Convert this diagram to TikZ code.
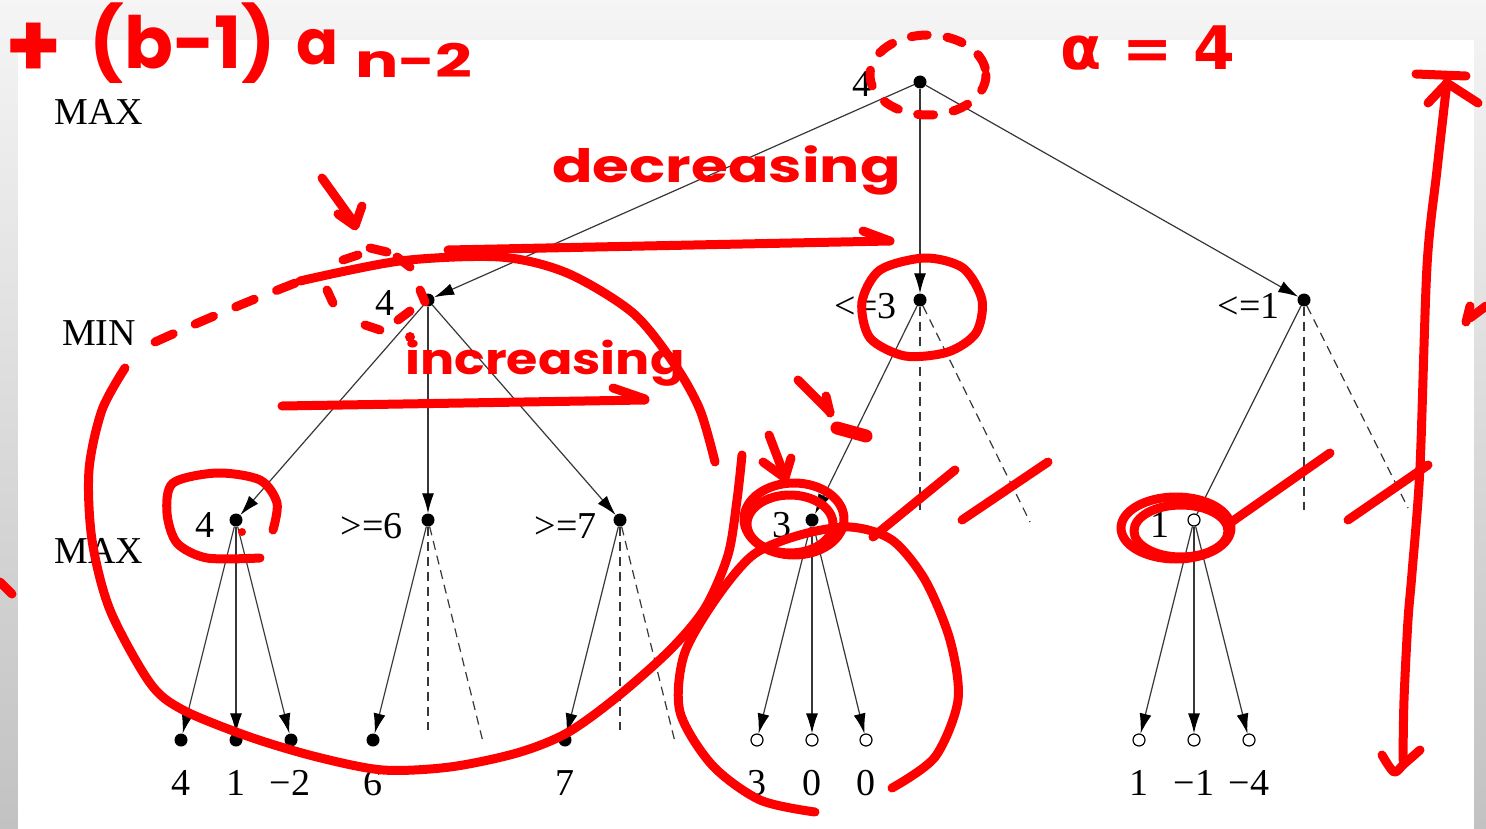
\documentclass[tikz,border=0pt]{standalone}
\usepackage{fontspec}
\setmainfont{Liberation Serif}
\newfontfamily\handfont{Poppins}
\newfontfamily\greekhand{DejaVu Sans}
\usetikzlibrary{arrows.meta}
\definecolor{ink}{RGB}{255,0,0}
\definecolor{edgegray}{RGB}{55,55,55}
\begin{document}
\begin{tikzpicture}[x=1pt,y=-1pt,
  treeedge/.style={draw=edgegray, line width=1.2pt, -{Latex[length=20pt,width=12pt,color=black]}},
  plainedge/.style={draw=edgegray, line width=1.2pt},
  prunededge/.style={draw=edgegray, line width=1.2pt, dash pattern=on 9pt off 6pt},
  dotnode/.style={circle, fill=black, inner sep=0pt, minimum size=13pt},
  opennode/.style={circle, draw=black, fill=white, line width=1.2pt, inner sep=0pt, minimum size=12pt},
  treelabel/.style={inner sep=0pt, font=\fontsize{38}{40}\selectfont},
  inkline/.style={draw=ink, line width=9pt, line cap=round, line join=round},
  inkdash/.style={inkline, dash pattern=on 20pt off 24pt},
  inktext/.style={text=ink, inner sep=0pt}]
\useasboundingbox (0,0) rectangle (1486,829);
% background frame
\fill[top color=black!4, bottom color=black!24] (0,0) rectangle (1486,829);
\fill[white] (18,40) rectangle (1474,829);

% level labels
\node[treelabel, anchor=base] (lmax1) at (99,125) {MAX};
\node[treelabel, anchor=base] (lmin) at (99,345) {MIN};
\node[treelabel, anchor=base] (lmax2) at (99,563) {MAX};

% tree nodes
\node[dotnode] (root) at (920,82) {};
\node[dotnode] (A) at (428,300) {};
\node[dotnode] (B) at (920,300) {};
\node[dotnode] (C) at (1304,300) {};
\node[dotnode] (A1) at (236,520) {};
\node[dotnode] (A2) at (428,520) {};
\node[dotnode] (A3) at (620,520) {};
\node[dotnode] (B1) at (812,520) {};
\node[opennode] (C1) at (1194,520) {};
\node[dotnode] (a11) at (181,740) {};
\node[dotnode] (a12) at (236,740) {};
\node[dotnode] (a13) at (291,740) {};
\node[dotnode] (a21) at (373,740) {};
\node[dotnode] (a31) at (565,740) {};
\node[opennode] (b11) at (757,740) {};
\node[opennode] (b12) at (812,740) {};
\node[opennode] (b13) at (866,740) {};
\node[opennode] (c11) at (1139,740) {};
\node[opennode] (c12) at (1194,740) {};
\node[opennode] (c13) at (1249,740) {};
\coordinate (pA2a) at (428,730);
\coordinate (pA2b) at (483,742);
\coordinate (pA3a) at (620,730);
\coordinate (pA3b) at (675,742);
\coordinate (pBa) at (920,510);
\coordinate (pBb) at (1030,522);
\coordinate (pCa) at (1304,510);
\coordinate (pCb) at (1408,508);

% node value labels
\node[treelabel, anchor=base east] (vroot) at ([xshift=-48pt,yshift=-15pt]root.center) {4};
\node[treelabel, anchor=base east] (vA) at ([xshift=-33pt,yshift=-15pt]A.center) {4};
\node[treelabel, anchor=base east] (vB) at ([xshift=-23pt,yshift=-18pt]B.center) {<=3};
\node[treelabel, anchor=base east] (vC) at ([xshift=-24pt,yshift=-18pt]C.center) {<=1};
\node[treelabel, anchor=base east] (vA1) at ([xshift=-21pt,yshift=-17pt]A1.center) {4};
\node[treelabel, anchor=base east] (vA2) at ([xshift=-25pt,yshift=-18pt]A2.center) {>=6};
\node[treelabel, anchor=base east] (vA3) at ([xshift=-23pt,yshift=-18pt]A3.center) {>=7};
\node[treelabel, anchor=base east] (vB1) at ([xshift=-20pt,yshift=-17pt]B1.center) {3};
\node[treelabel, anchor=base east] (vC1) at ([xshift=-24pt,yshift=-17pt]C1.center) {1};

% leaf values
\node[treelabel, anchor=base] (t1) at (181,795) {4};
\node[treelabel, anchor=base] (t2) at (236,795) {1};
\node[treelabel, anchor=base] (t3) at (290,795) {−2};
\node[treelabel, anchor=base] (t4) at (373,795) {6};
\node[treelabel, anchor=base] (t5) at (565,795) {7};
\node[treelabel, anchor=base] (t6) at (757,795) {3};
\node[treelabel, anchor=base] (t7) at (812,795) {0};
\node[treelabel, anchor=base] (t8) at (866,795) {0};
\node[treelabel, anchor=base] (t9) at (1139,795) {1};
\node[treelabel, anchor=base] (t10) at (1194,795) {−1};
\node[treelabel, anchor=base] (t11) at (1249,795) {−4};

% edges
\draw[treeedge] (root) -- (A);
\draw[treeedge] (root) -- (B);
\draw[treeedge] (root) -- (C);
\draw[treeedge] (A) -- (A1);
\draw[treeedge] (A) -- (A2);
\draw[treeedge] (A) -- (A3);
\draw[treeedge] (A1) -- (a11);
\draw[treeedge] (A1) -- (a12);
\draw[treeedge] (A1) -- (a13);
\draw[treeedge] (A2) -- (a21);
\draw[treeedge] (A3) -- (a31);
\draw[treeedge] (B) -- (B1);
\draw[treeedge] (B1) -- (b11);
\draw[treeedge] (B1) -- (b12);
\draw[treeedge] (B1) -- (b13);
\draw[plainedge] (C) -- (C1);
\draw[treeedge] (C1) -- (c11);
\draw[treeedge] (C1) -- (c12);
\draw[treeedge] (C1) -- (c13);
\draw[prunededge] (A2) -- (pA2a);
\draw[prunededge] (A2) -- (pA2b);
\draw[prunededge] (A3) -- (pA3a);
\draw[prunededge] (A3) -- (pA3b);
\draw[prunededge] (B) -- (pBa);
\draw[prunededge] (B) -- (pBb);
\draw[prunededge] (C) -- (pCa);
\draw[prunededge] (C) -- (pCb);

% ---------- red handwriting ----------
\node[inktext, font=\handfont\bfseries\fontsize{90}{90}\selectfont] (hplus) at (34,50) {+};
\node[inktext, font=\handfont\bfseries\fontsize{72}{72}\selectfont] (hbr) at (183,43) {(b-1)};
\node[inktext, font=\handfont\bfseries\fontsize{62}{62}\selectfont] (ha) at (318,47) {a};
\node[inktext, font=\handfont\bfseries\fontsize{46}{46}\selectfont, xscale=1.4] (hsub) at (414,60) {n-2};
\node[inktext, font=\greekhand\bfseries\fontsize{60}{60}\selectfont, anchor=west] (halpha) at (1060,48) {α = 4};
\node[inktext, font=\handfont\bfseries\fontsize{46}{46}\selectfont, xscale=1.3, anchor=base west] (hdec) at (552,183) {decreasing};
\node[inktext, font=\handfont\bfseries\fontsize{43}{43}\selectfont, xscale=1.18, anchor=base west] (hinc) at (405,374) {increasing};

% dashed ellipse round the root
\draw[inkline, dash pattern=on 16pt off 20pt] (928,75) ellipse [x radius=58, y radius=40];

% arrows
\draw[inkline] (322,178) -- (355,224);
\draw[inkline] (338,214) -- (355,226) -- (362,206);
\draw[inkline] (448,250) -- (890,241);
\draw[inkline] (863,231) -- (890,241);
\draw[inkline] (282,406) -- (645,400);
\draw[inkline] (613,388) -- (645,399);
\draw[inkline] (798,380) -- (830,412);
\draw[inkline] (826,396) -- (830,413);
\draw[inkline, line width=13pt] (837,428) -- (866,436);
\draw[inkline] (769,435) -- (785,477);
\draw[inkline] (763,462) -- (785,478) -- (791,458);

% loop round the left MIN subtree
\draw[inkdash] plot[smooth] coordinates {(155,342) (200,322) (250,301) (298,282)};
\draw[inkline] plot[smooth] coordinates {(300,281) (400,261) (500,257) (567,273) (633,313) (675,365) (700,410) (715,462)};
\draw[inkline] plot[smooth] coordinates {(125,368) (102,410) (89,470) (92,540) (110,610) (150,683) (183,710) (250,737) (317,757) (383,770) (450,767) (517,753) (567,733) (617,697) (670,650) (705,608) (728,555) (737,500) (742,455)};
% dashed small circle round MIN 4
\draw[inkline] (327,290) -- (333,303);
\draw[inkline] (365,325) -- (380,330);
\draw[inkline] (398,320) -- (410,311);
\draw[inkline] (420,290) -- (425,302);
\draw[inkline] (343,260) -- (358,255);
\draw[inkline] (370,248) -- (387,252);
\draw[inkline] (397,257) -- (410,267);
\fill[ink] (410,337) circle [radius=5];

% loop round MAX 4
\draw[inkline] plot[smooth] coordinates {(273,530) (277,503) (260,480) (217,473) (173,483) (167,513) (177,543) (207,558) (260,558)};
\fill[ink] (242,532) circle [radius=4];

% circle round <=3
\draw[inkline] plot[smooth cycle] coordinates {(925,258) (963,268) (982,300) (976,333) (948,352) (905,356) (870,338) (862,302) (880,270)};

% loops round MAX 3 and its subtree
\draw[inkline] (794,519) ellipse [x radius=50, y radius=36];
\draw[inkline] (790,524) ellipse [x radius=43, y radius=29];
\draw[inkline] plot[smooth] coordinates {(815,812) (760,800) (712,765) (680,712) (684,655) (715,600) (753,555) (800,535) (850,527) (892,540) (925,580) (950,640) (958,700) (935,757) (892,788)};

% loops round MAX 1
\draw[inkline] (1176,528) ellipse [x radius=55, y radius=31];
\draw[inkline] (1181,531) ellipse [x radius=47, y radius=26];

% slashes
\draw[inkline] (873,537) -- (955,470);
\draw[inkline] (962,520) -- (1048,462);
\draw[inkline] (1230,523) -- (1330,453);
\draw[inkline] (1348,520) -- (1428,465);

% right vertical arrow
\draw[inkline] plot[smooth] coordinates {(1447,82) (1437,170) (1427,266) (1420,467) (1412,573) (1408,620) (1404,700) (1403,760)};
\draw[inkline] (1416,74) -- (1466,76);
\draw[inkline] (1428,103) -- (1447,83) -- (1478,103);
\draw[inkline] plot[smooth] coordinates {(1382,755) (1394,772) (1404,764) (1420,750)};

% small marks at the edges
\draw[inkline] (1466,322) -- (1470,306);
\draw[inkline] (1470,318) -- (1486,306);
\draw[inkline] (0,582) -- (12,594);
\end{tikzpicture}
\end{document}
